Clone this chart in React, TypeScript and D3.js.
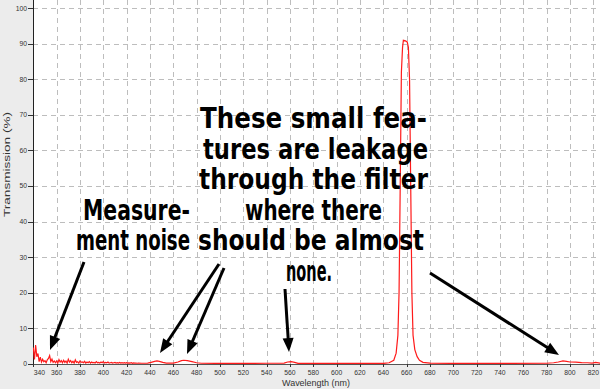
import React from "react";
import * as d3 from "d3";

// ---- data ----
const noiseStartNm = 340; // measurement noise sampled every 1 nm from 340 nm
const noiseT = [
  4.6, 1.2, 5.3, 2.0, 2.9, 0.6, 1.9, 0.5, 1.3, 0.6,
  0.9, 0.3, 1.1, 1.5, 2.3, 0.6, 1.3, 0.4, 0.8, 0.3,
  0.8, 0.2, 1.2, 0.5, 0.9, 0.3, 1.0, 0.4, 0.8, 0.2,
  1.3, 0.5, 0.9, 0.3, 0.7, 0.2, 1.1, 0.4, 0.6, 0.2,
  0.8, 0.4, 0.5, 0.3, 0.7, 0.2, 0.5, 0.3, 0.6, 0.2,
  0.5, 0.3, 0.4, 0.2, 0.6, 0.3, 0.4, 0.2, 0.5, 0.3,
  0.6, 0.2, 0.4, 0.3, 0.5, 0.2, 0.3, 0.4, 0.2, 0.3,
  0.4, 0.2, 0.3, 0.2, 0.4, 0.2, 0.3, 0.2, 0.3, 0.2,
  0.3, 0.2, 0.25, 0.2, 0.3, 0.15, 0.25, 0.2, 0.2, 0.15, 0.2,
];
const featureNm = [
  433, 438, 441, 444, 446, 448, 451, 454,
  460, 464, 467, 469, 472, 476, 480, 484,
  500, 520, 540, 555, 558, 561, 564, 567,
  580, 600, 620, 640, 645, 649, 651, 652.5,
  653.5, 654.5, 655.5, 656.5, 657.2, 659, 660.5, 661.5,
  662.5, 663.5, 664.5, 665.5, 667, 669, 671, 674,
  680, 700, 740, 780, 786, 790, 794, 797,
  800, 805, 810, 815, 819, 822, 826,
];
const featureT = [
  0.15, 0.2, 0.4, 0.7, 0.8, 0.7, 0.4, 0.2,
  0.2, 0.5, 0.9, 1.0, 0.9, 0.6, 0.3, 0.15,
  0.1, 0.1, 0.15, 0.2, 0.5, 0.6, 0.4, 0.1,
  0.1, 0.1, 0.1, 0.1, 0.3, 1, 3, 8,
  20, 50, 82, 89, 91, 90.8, 90.5, 89,
  80, 50, 20, 8, 4, 2, 1, 0.4,
  0.2, 0.1, 0.1, 0.15, 0.3, 0.5, 0.8, 0.7,
  0.5, 0.45, 0.35, 0.3, 0.2, 0.4, 0.2,
];
const xTicks = [340, 360, 380, 400, 420, 440, 460, 480, 500, 520, 540, 560, 580, 600, 620, 640, 660, 680, 700, 720, 740, 760, 780, 800, 820];
const yTicks = [0, 10, 20, 30, 40, 50, 60, 70, 80, 90, 100];
const xTitle = "Wavelength (nm)";
const yTitle = "Transmission (%)";

const noteLeft = ["Measure-", "ment noise"];
const noteRight = [
  "These small fea-",
  "tures are leakage",
  "through the filter",
  "where there",
  "should be almost",
  "none.",
];

// ---- layout ----
const W = 600;
const H = 389;
const plotLeft = 33;
const plotRight = 600;
const plotTop = 0;
const plotBottom = 364;

// annotation layout (pixels)
const leftLines = [
  { cx: 136.5, y: 220, w: 107 },
  { cx: 133, y: 250, w: 114 },
];
const rightLines = [
  { cx: 313.5, y: 128, w: 227 },
  { cx: 315.5, y: 158.5, w: 225 },
  { cx: 313.5, y: 189, w: 229 },
  { cx: 313.5, y: 219.5, w: 137 },
  { cx: 311, y: 250, w: 226 },
  { cx: 309, y: 280.5, w: 46 },
];
const arrows = [
  { x1: 84, y1: 262, x2: 50, y2: 350 },
  { x1: 219, y1: 264, x2: 160, y2: 353 },
  { x1: 224, y1: 268, x2: 187, y2: 354 },
  { x1: 285, y1: 289, x2: 289, y2: 352 },
  { x1: 430, y1: 273, x2: 559, y2: 355 },
];

function Arrow({ x1, y1, x2, y2 }: { x1: number; y1: number; x2: number; y2: number }) {
  const dx = x2 - x1;
  const dy = y2 - y1;
  const len = Math.hypot(dx, dy);
  const ux = dx / len;
  const uy = dy / len;
  const headL = 14;
  const headW = 5.5;
  const bx = x2 - ux * headL;
  const by = y2 - uy * headL;
  const px = -uy;
  const py = ux;
  const pts = [
    [x2, y2],
    [bx + px * headW, by + py * headW],
    [bx - px * headW, by - py * headW],
  ];
  return (
    <g>
      <line x1={x1} y1={y1} x2={bx + ux * 2} y2={by + uy * 2} stroke="#000" strokeWidth={3} />
      <polygon points={pts.map((p) => p.join(",")).join(" ")} fill="#000" />
    </g>
  );
}

export default function App() {
  const x = d3.scaleLinear().domain([340, 820]).range([33.3, 593.3]);
  const y = d3.scaleLinear().domain([0, 100]).range([363.8, 8.2]);

  const data: [number, number][] = [
    ...noiseT.map((t, i) => [noiseStartNm + i, t] as [number, number]),
    ...featureNm.map((n, i) => [n, featureT[i]] as [number, number]),
  ];
  const line = d3
    .line<[number, number]>()
    .x((d) => x(d[0]))
    .y((d) => y(d[1]));

  const tickFont = "'Liberation Sans', Arial, sans-serif";
  const noteFont = "'DejaVu Sans Condensed', 'DejaVu Sans', sans-serif";
  const noteSize = 24.5;
  const noteVScale = 1.15;

  const noteText = (s: string, l: { cx: number; y: number; w: number }, k: string) => (
    <text
      key={k}
      transform={`translate(${l.cx},${l.y}) scale(1,${noteVScale})`}
      x={0}
      y={0}
      textAnchor="middle"
      textLength={l.w}
      lengthAdjust="spacingAndGlyphs"
    >
      {s}
    </text>
  );

  return (
    <svg
      width={W}
      height={H}
      style={{ position: "absolute", left: 0, top: 0, display: "block" }}
    >
      <defs>
        <clipPath id="plotClip">
          <rect x={plotLeft} y={plotTop} width={plotRight - plotLeft} height={plotBottom - plotTop} />
        </clipPath>
      </defs>
      <rect x={0} y={0} width={W} height={H} fill="#ececec" />
      <rect x={plotLeft} y={plotTop} width={plotRight - plotLeft} height={plotBottom - plotTop} fill="#ffffff" />

      {/* grid */}
      <g stroke="#bdbdbd" strokeWidth={1} strokeDasharray="5,4">
        {yTicks.filter((t) => t > 0).map((t) => (
          <line key={"gy" + t} x1={plotLeft} x2={plotRight} y1={Math.round(y(t)) + 0.5} y2={Math.round(y(t)) + 0.5} />
        ))}
        {xTicks.filter((t) => t > 340).map((t) => (
          <line key={"gx" + t} x1={Math.round(x(t)) + 0.5} x2={Math.round(x(t)) + 0.5} y1={plotTop} y2={plotBottom} />
        ))}
      </g>

      {/* axes */}
      <line x1={plotLeft + 0.5} x2={plotLeft + 0.5} y1={plotTop} y2={plotBottom + 3} stroke="#222" strokeWidth={1} />
      <line x1={plotLeft} x2={plotRight} y1={plotBottom + 0.5} y2={plotBottom + 0.5} stroke="#555" strokeWidth={1} />
      <g stroke="#333" strokeWidth={1}>
        {yTicks.map((t) => (
          <line key={"ty" + t} x1={plotLeft - 5} x2={plotLeft} y1={Math.round(y(t)) + 0.5} y2={Math.round(y(t)) + 0.5} />
        ))}
        {xTicks.map((t) => (
          <line key={"tx" + t} x1={Math.round(x(t)) + 0.5} x2={Math.round(x(t)) + 0.5} y1={plotBottom} y2={plotBottom + 3} />
        ))}
      </g>
      <g fontFamily={tickFont} fontSize={6.8} fill="#333">
        {yTicks.map((t) => (
          <text key={"ly" + t} x={plotLeft - 6} y={y(t) + 2.4} textAnchor="end">
            {t}
          </text>
        ))}
        {xTicks.map((t, i) => (
          <text key={"lx" + t} x={x(t)} dx={i === 0 ? 0.5 : 0} y={375.3} textAnchor={i === 0 ? "start" : "middle"}>
            {t}
          </text>
        ))}
      </g>
      <text x={316} y={386} textAnchor="middle" fontFamily={tickFont} fontSize={9} fill="#333" textLength={68} lengthAdjust="spacingAndGlyphs">
        {xTitle}
      </text>
      <text
        transform="translate(9.5,164.5) rotate(-90)"
        textAnchor="middle"
        fontFamily={tickFont}
        fontSize={9}
        fill="#333"
        textLength={105}
        lengthAdjust="spacingAndGlyphs"
      >
        {yTitle}
      </text>

      {/* data */}
      <path d={line(data) || ""} fill="none" stroke="#ff1a1a" strokeWidth={1.2} clipPath="url(#plotClip)" />

      {/* annotations */}
      <g fontFamily={noteFont} fontWeight="bold" fontSize={noteSize} fill="#000">
        {noteLeft.map((s, i) => noteText(s, leftLines[i], "nl" + i))}
        {noteRight.map((s, i) => noteText(s, rightLines[i], "nr" + i))}
      </g>
      {arrows.map((a, i) => (
        <Arrow key={"a" + i} {...a} />
      ))}
    </svg>
  );
}
